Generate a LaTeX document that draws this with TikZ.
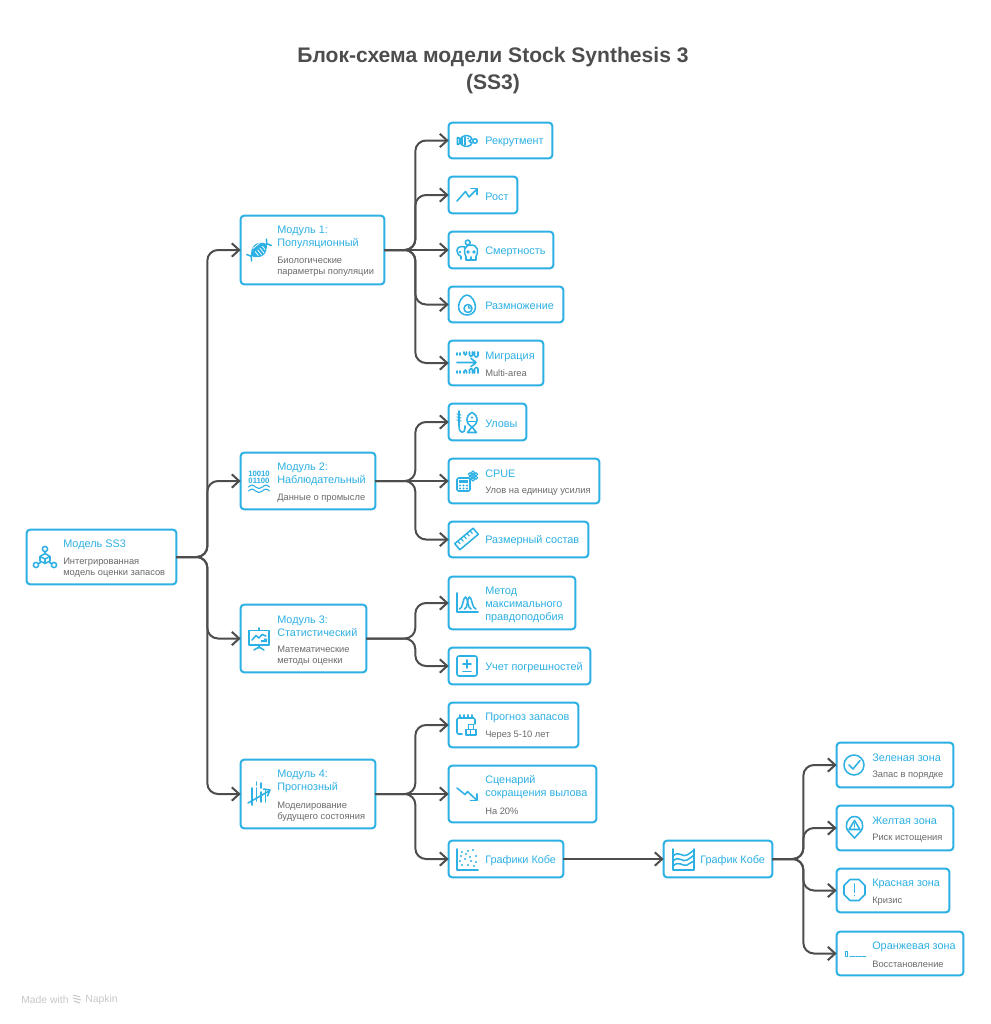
\documentclass[tikz,border=0pt]{standalone}
\usepackage{fontspec}
\setmainfont{Liberation Sans}
\usetikzlibrary{arrows.meta,fit}
\definecolor{ssblue}{HTML}{2DB0E3}
\definecolor{ssline}{HTML}{4D4D4D}
\definecolor{sstext}{HTML}{6A6A6A}
\tikzset{
  card/.style={draw=ssblue,line width=1.5pt,rounded corners=2.5pt,inner sep=-0.5pt,outer sep=0pt,fill=white},
  link/.style={draw=ssline,line width=1.5pt,rounded corners=8pt},
  linka/.style={link,-{Straight Barb[length=5.5pt,width=10pt,line width=1.5pt]}},
  ttl/.style={anchor=west,align=left,inner sep=0pt,yshift=-1.1pt,text=ssblue,font=\fontsize{8.15}{9.75}\selectfont},
  subt/.style={anchor=west,align=left,inner sep=0pt,yshift=-1.1pt,text=sstext,font=\fontsize{7}{8.4}\selectfont},
  icon/.style={color=ssblue,line width=1.15pt,line cap=round,line join=round},
}
\begin{document}
\begin{tikzpicture}[x=0.75pt,y=-0.75pt]
\useasboundingbox (0,0) rectangle (991,1024);
\node[anchor=center,align=center,inner sep=0pt,text=ssline,font=\fontsize{15.8}{20.2}\selectfont\bfseries] (head) at (493,71) {Блок-схема модели Stock Synthesis 3\\(SS3)};
\node[card,fit={(26,529)(177,585)}] (model) {};
\node[card,fit={(240,215)(385,285)}] (mod1) {};
\node[card,fit={(240,452)(376,510)}] (mod2) {};
\node[card,fit={(240,604)(367,673)}] (mod3) {};
\node[card,fit={(240,759)(376,829)}] (mod4) {};
\node[card,fit={(448,122)(553,159)}] (rekrut) {};
\node[card,fit={(448,176)(518,214)}] (rost) {};
\node[card,fit={(448,231)(554,269)}] (smert) {};
\node[card,fit={(448,286)(564,323)}] (razm) {};
\node[card,fit={(448,340)(544,386)}] (migr) {};
\node[card,fit={(448,403)(527,441)}] (ulov) {};
\node[card,fit={(448,458)(600,504)}] (cpue) {};
\node[card,fit={(448,521)(589,558)}] (sostav) {};
\node[card,fit={(448,576)(576,630)}] (metod) {};
\node[card,fit={(448,647)(591,685)}] (uchet) {};
\node[card,fit={(448,702)(579,748)}] (prog) {};
\node[card,fit={(448,765)(597,823)}] (scen) {};
\node[card,fit={(448,840)(564,878)}] (grafs) {};
\node[card,fit={(663,840)(773,878)}] (kobe) {};
\node[card,fit={(836,742)(954,788)}] (zel) {};
\node[card,fit={(836,805)(954,851)}] (zhel) {};
\node[card,fit={(836,868)(950,913)}] (kras) {};
\node[card,fit={(836,931)(964,976)}] (oran) {};
\draw[linka] (model.east) -- ++(31,0) |- (mod1.west);
\draw[linka] (model.east) -- ++(31,0) |- (mod2.west);
\draw[linka] (model.east) -- ++(31,0) |- (mod3.west);
\draw[linka] (model.east) -- ++(31,0) |- (mod4.west);
\draw[linka] (mod1.east) -- ++(31,0) |- (rekrut.west);
\draw[linka] (mod1.east) -- ++(31,0) |- (rost.west);
\draw[linka] (mod1.east) -- (smert.west);
\draw[linka] (mod1.east) -- ++(31,0) |- (razm.west);
\draw[linka] (mod1.east) -- ++(31,0) |- (migr.west);
\draw[linka] (mod2.east) -- ++(40,0) |- (ulov.west);
\draw[linka] (mod2.east) -- (cpue.west);
\draw[linka] (mod2.east) -- ++(40,0) |- (sostav.west);
\draw[linka] (mod3.east) -- ++(49,0) |- (metod.west);
\draw[linka] (mod3.east) -- ++(49,0) |- (uchet.west);
\draw[linka] (mod4.east) -- ++(40,0) |- (prog.west);
\draw[linka] (mod4.east) -- (scen.west);
\draw[linka] (mod4.east) -- ++(40,0) |- (grafs.west);
\draw[linka] (grafs.east) -- (kobe.west);
\draw[linka] (kobe.east) -- ++(31,0) |- (zel.west);
\draw[linka] (kobe.east) -- ++(31,0) |- (zhel.west);
\draw[linka] (kobe.east) -- ++(31,0) |- (kras.west);
\draw[linka] (kobe.east) -- ++(31,0) |- (oran.west);
\node[ttl] (modelt) at (63,543.5) {Модель SS3};
\node[subt] (models) at (63,566) {Интегрированная\\модель оценки запасов};
\node[ttl] (mod1t) at (277,235.5) {Модуль 1:\\Популяционный};
\node[subt] (mod1s) at (277,265) {Биологические\\параметры популяции};
\node[ttl] (mod2t) at (277,472.5) {Модуль 2:\\Наблюдательный};
\node[subt] (mod2s) at (277,496.5) {Данные о промысле};
\node[ttl] (mod3t) at (277,624.5) {Модуль 3:\\Статистический};
\node[subt] (mod3s) at (277,654.5) {Математические\\методы оценки};
\node[ttl] (mod4t) at (277,780) {Модуль 4:\\Прогнозный};
\node[subt] (mod4s) at (277,810) {Моделирование\\будущего состояния};
\node[ttl] (rekrutt) at (485,140.5) {Рекрутмент};
\node[ttl] (rostt) at (485,195) {Рост};
\node[ttl] (smertt) at (485,250) {Смертность};
\node[ttl] (razmt) at (485,304.5) {Размножение};
\node[ttl] (migrt) at (485,355) {Миграция};
\node[subt] (migrs) at (485,372) {Multi-area};
\node[ttl] (ulovt) at (485,422) {Уловы};
\node[ttl] (cpuet) at (485,472.5) {CPUE};
\node[subt] (cpues) at (485,490) {Улов на единицу усилия};
\node[ttl] (sostavt) at (485,539.5) {Размерный состав};
\node[ttl] (metodt) at (485,603) {Метод\\максимального\\правдоподобия};
\node[ttl] (uchett) at (485,666) {Учет погрешностей};
\node[ttl] (progt) at (485,716.5) {Прогноз запасов};
\node[subt] (progs) at (485,734) {Через 5-10 лет};
\node[ttl] (scent) at (485,785.5) {Сценарий\\сокращения вылова};
\node[subt] (scens) at (485,809.5) {На 20\%};
\node[ttl] (grafst) at (485,859) {Графики Кобе};
\node[ttl] (kobet) at (700,859) {График Кобе};
\node[ttl] (zelt) at (872,756.5) {Зеленая зона};
\node[subt] (zels) at (872,774) {Запас в порядке};
\node[ttl] (zhelt) at (872,819.5) {Желтая зона};
\node[subt] (zhels) at (872,837) {Риск истощения};
\node[ttl] (krast) at (872,882.5) {Красная зона};
\node[subt] (krass) at (872,900) {Кризис};
\node[ttl] (orant) at (872,945) {Оранжевая зона};
\node[subt] (orans) at (872,962.5) {Восстановление};
\begin{scope}[shift={(45,558)},icon]
  \draw (0,-9) circle (2.6);
  \draw (-9,7) circle (2.6);
  \draw (9,7) circle (2.6);
  \draw (0,-6.5) -- (0,-4.5);
  \draw (-6.8,5.8) -- (-4.5,4.5);
  \draw (6.8,5.8) -- (4.5,4.5);
  \draw (0,-4.5) -- (5,-1.5) -- (5,3) -- (0,5.5) -- (-5,3) -- (-5,-1.5) -- cycle;
  \draw (-5,-1.5) -- (0,1) -- (5,-1.5);
  \draw (0,1) -- (0,5.5);
\end{scope}
\begin{scope}[shift={(259,250)},rotate=38,icon]
  \fill (-10,0) .. controls (-4,-9) and (4,-9) .. (10,0) .. controls (4,9) and (-4,9) .. (-10,0) -- cycle;
  \draw[white,line width=0.55pt] (-4,-1) -- (-4,4) (-1,-1) -- (-1,5.5) (2,-1) -- (2,5.5) (5,-1) -- (5,3.5) (-4,-5) -- (5,-5) ;
  \draw (-10,0) -- (-12.5,-4) (-10,0) -- (-12.5,4) (10,0) -- (12.5,-4) (10,0) -- (12.5,4);
\end{scope}
\begin{scope}[shift={(259,481)},icon]
  \node[inner sep=0pt,font=\fontsize{5.8}{6}\selectfont\bfseries] (bin1) at (0,-7) {10010};
  \node[inner sep=0pt,font=\fontsize{5.8}{6}\selectfont\bfseries] (bin2) at (0,0) {01100};
  \draw[line width=0.8pt] (-10.5,6) .. controls (-8,3.5) and (-6,3.5) .. (-3.5,6) .. controls (-1,8) and (1,8) .. (3.5,6) .. controls (6,3.5) and (8,3.5) .. (10.5,6);
  \draw[line width=0.8pt] (-10.5,10) .. controls (-8,7.5) and (-6,7.5) .. (-3.5,10) .. controls (-1,12) and (1,12) .. (3.5,10) .. controls (6,7.5) and (8,7.5) .. (10.5,10);
\end{scope}
\begin{scope}[shift={(259,639)},icon]
  \draw (-10,-8.5) rectangle (10,6);
  \draw (0,-11) -- (0,-8.5);
  \draw (-7,1) -- (-3,-3.5) -- (0,-1) -- (3,-4.5) -- (7,-3);
  \fill (2,3) rectangle (8,1) (5,1) rectangle (8,-0.5);
  \draw (0,6) -- (0,9) (-5,11) -- (0,8) -- (5,11);
\end{scope}
\begin{scope}[shift={(259,794)},icon]
  \draw (-7,-6) -- (-7,11) (-2.5,-6) -- (-2.5,7) (2,-2) -- (2,8) (6.5,-4) -- (6.5,8);
  \draw (-2.5,-12) -- (-2.5,-9) (2,-11) -- (2,-6);
  \draw (-11,9) -- (10,-3);
  \draw (4.5,-5) -- (11,-4) -- (8.5,2);
\end{scope}
\begin{scope}[shift={(467,141)},icon]
  \draw (-5,-4) .. controls (-1,-7) and (4,-5) .. (5,-2) -- (2,0) -- (5,2) .. controls (4,5) and (-1,7) .. (-5,4) -- cycle;
  \draw (-5,-2) -- (-9.5,-3.5) -- (-9.5,3.5) -- (-5,2);
  \draw (-2,-4) -- (-2,4) (-7,-2.5) -- (-7,2.5);
  \draw (8,0) circle (2.2);
  \fill (1,-2.5) circle (1);
\end{scope}
\begin{scope}[shift={(467,195)},icon]
  \draw (-10,6) -- (-1.5,-3.5) -- (2,2) -- (10,-6);
  \draw (4,-6.5) -- (10,-6.5) -- (10,-0.5);
\end{scope}
\begin{scope}[shift={(467,250)},icon]
  \draw (0.7,-7.5) circle (2.4);
  \draw (0.7,-5) -- (0.7,-4);
  \draw (-6,9) -- (-6,6.5) .. controls (-12,3) and (-11,-3.5) .. (-5.5,-3.5) .. controls (-3,-3.5) and (-2,-3) .. (-1,-2);
  \fill (-7,2) circle (1.3);
  \draw[fill=white] (-1,10) -- (-1,6.5) .. controls (-4,2) and (-3,-5) .. (4,-5) .. controls (11,-5) and (12,2) .. (9,6.5) -- (9,10) -- cycle;
  \fill (1,2) circle (1.9) (7,2) circle (1.9);
  \draw (4,7) -- (4,10);
\end{scope}
\begin{scope}[shift={(467,305)},icon]
  \draw (0,-10) .. controls (5,-10) and (8.5,-2) .. (8.5,2) .. controls (8.5,7) and (4.5,10) .. (0,10) .. controls (-4.5,10) and (-8.5,7) .. (-8.5,2) .. controls (-8.5,-2) and (-5,-10) .. (0,-10) -- cycle;
  \draw (1,3.5) circle (4);
  \fill (1,3.5) -- (1,0.5) -- (4,3.5) -- cycle;
\end{scope}
\begin{scope}[shift={(467,363)},icon,rounded corners=1pt]
  \draw (-10,-10) -- (-10,-8) (-7,-10) -- (-7,-8);
  \draw (-3,-11) -- (-3,-8) -- (-0.5,-8) -- (-0.5,-11) (2.5,-11) -- (2.5,-6.5) -- (5.5,-6.5) -- (5.5,-11) (7.5,-11) -- (7.5,-6) -- (11,-6) -- (11,-11);
  \draw (-10,-0.5) -- (9,-0.5) (4,-4.5) -- (9.5,-0.5) -- (4,3.5);
  \draw (-10,8) -- (-10,10) (-7,8) -- (-7,10);
  \draw (-3,10) -- (-3,7) -- (-0.5,7) -- (-0.5,10) (2.5,10) -- (2.5,5.5) -- (5.5,5.5) -- (5.5,10) (7.5,10) -- (7.5,4.5) -- (11,4.5) -- (11,10);
\end{scope}
\begin{scope}[shift={(467,422)},icon]
  \draw (-8,-11) -- (-8,4) .. controls (-8,12) and (-2,12) .. (-2,6) -- (-2,4);
  \draw[line width=0.8pt] (-10,-8) -- (-6,-7) (-10,-5) -- (-6,-4) (-10,-2) -- (-6,-1);
  \draw (5,-9.5) .. controls (12,-6) and (12,1) .. (5,5) .. controls (-2,1) and (-2,-6) .. (5,-9.5) -- cycle;
  \draw (5,5) -- (0.5,10.5) -- (9.5,10.5) -- cycle;
  \fill (5,-4.5) circle (1.2);
  \draw (1.5,-0.5) -- (8.5,-0.5);
\end{scope}
\begin{scope}[shift={(467,481)},icon]
  \draw[rounded corners=1pt] (-10,-3) rectangle (3,10);
  \fill (-8,-1) rectangle (1,2);
  \foreach \i in {-7,-3.5,0}{\foreach \j in {4.5,7.5}{\fill (\i,\j) circle (1.1);}}
  \draw[line width=0.8pt] (6,-5) circle (1.5);
  \foreach \a in {30,90,150,210,270,330}{\draw[line width=0.8pt] (6,-5) +(\a:3.5) circle (1.7);}
\end{scope}
\begin{scope}[shift={(466.5,539)},rotate=40,icon]
  \draw (-12,-4) rectangle (12,4);
  \foreach \i in {-8,-4,0,4,8}{\draw[line width=0.9pt] (\i,-4) -- (\i,-0.5);}
\end{scope}
\begin{scope}[shift={(467,603)},icon]
  \draw (-10,-10) -- (-10,9) -- (11,9);
  \draw (-7.5,6) .. controls (-4,6) and (-4,-6) .. (-1.5,-6) .. controls (1,-6) and (0.5,6) .. (4,6);
  \draw (-2.5,6) .. controls (1,6) and (0,-6) .. (2.5,-6) .. controls (5,-6) and (5,6) .. (9,6);
\end{scope}
\begin{scope}[shift={(467,666)},icon]
  \draw[rounded corners=1.5pt] (-10,-10) -- (10,-10) -- (10,10) -- (-10,10) -- cycle;
  \draw (-4,-2) -- (4,-2) (0,-6) -- (0,2) (-4,5.5) -- (4,5.5);
\end{scope}
\begin{scope}[shift={(467,725)},icon]
  \draw[rounded corners=1pt] (-5,9) -- (-10,9) -- (-10,-7) -- (8,-7) -- (8,-1);
  \draw (-7,-10) -- (-7,-7) (-3,-10) -- (-3,-7) (1,-10) -- (1,-7) (5,-10) -- (5,-7);
  \draw (-1,4.5) rectangle (3.5,10) (3.5,4.5) rectangle (9,10) (1.5,-0.5) rectangle (6.5,4.5);
\end{scope}
\begin{scope}[shift={(467,794)},icon]
  \draw (-10,-6) -- (-2,0.5) -- (0.5,-2.5) -- (9.5,6);
  \draw (10,0) -- (10,6.5) -- (3.5,6.5);
\end{scope}
\begin{scope}[shift={(467,859)},icon]
  \draw (-10,-10) -- (-10,11) -- (11,11);
  \foreach \p in {(-5,-7),(1,-8),(6,-9),(-6,-3),(-1,-5),(3,-2),(9,-3),(-7,2),(-2,0),(4,2),(9,3),(-5,6),(1,6),(7,7)}{\fill \p circle (1.2);}
\end{scope}
\begin{scope}[shift={(683,859)},icon]
  \draw (-10,-10) -- (-10,11) -- (11,11) -- (11,-10);
  \draw (-10,-3) .. controls (-4,-9) and (0,-1) .. (4,-4) .. controls (7,-6) and (9,-7) .. (11,-9);
  \draw (-10,2) .. controls (-4,-4) and (0,4) .. (4,1) .. controls (7,-1) and (9,-2) .. (11,-4);
  \draw (-10,7) .. controls (-4,1) and (0,8) .. (4,6) .. controls (7,4) and (9,3) .. (11,2);
\end{scope}
\begin{scope}[shift={(854,765)},icon]
  \draw (0,0) circle (10);
  \draw (-5,0) -- (-1,4) -- (6,-4.5);
\end{scope}
\begin{scope}[shift={(854.5,825)},icon]
  \draw (0,13) -- (-6,6.5) .. controls (-11,1) and (-7,-8.5) .. (0,-8.5) .. controls (7,-8.5) and (11,1) .. (6,6.5) -- cycle;
  \draw (0,-4.5) -- (5.5,4.5) -- (-5.5,4.5) -- cycle;
  \draw[line width=0.8pt] (0,-1.5) -- (0,1.5) (0,3.2) -- (0,3.3);
\end{scope}
\begin{scope}[shift={(854.5,890)},icon]
  \draw (-4.5,-10.5) -- (4.5,-10.5) -- (10.5,-4.5) -- (10.5,4.5) -- (4.5,10.5) -- (-4.5,10.5) -- (-10.5,4.5) -- (-10.5,-4.5) -- cycle;
  \draw (0,-6) -- (0,2) (0,5.5) -- (0,5.6);
\end{scope}
\begin{scope}[shift={(855,954)},icon]
  \draw[line width=0.9pt] (-9.5,-2.5) rectangle (-7.5,2.5);
  \draw[line width=1pt] (-5,2.5) -- (-3.5,2.5) (-2,2.5) -- (-0.5,2.5) (1,2.5) -- (2.5,2.5) (4,2.5) -- (5.5,2.5) (7,2.5) -- (10.5,2.5);
\end{scope}
\node[anchor=west,inner sep=0pt,yshift=-0.7pt,text=black!22,font=\fontsize{7.8}{9}\selectfont] (made) at (21,999) {Made with};
\begin{scope}[shift={(77,999)},color=black!22,line width=0.75pt]
  \draw (-4,-4) -- (3,-2) (-4,-1) -- (4,1) (-3,2) -- (3,4);
\end{scope}
\node[anchor=west,inner sep=0pt,yshift=-0.7pt,text=black!22,font=\fontsize{7.8}{9}\selectfont] (napkin) at (85,999) {Napkin};
\end{tikzpicture}
\end{document}
